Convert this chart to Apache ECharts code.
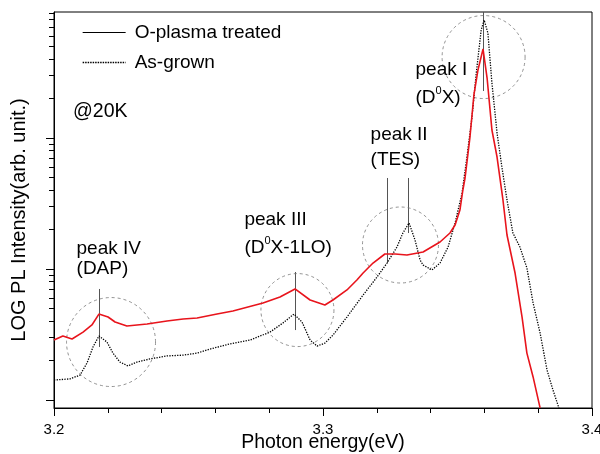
<!DOCTYPE html>
<html>
<head>
<meta charset="utf-8">
<script src="https://cdn.jsdelivr.net/npm/echarts@6.0.0/dist/echarts.min.js"></script>
<style>
  html, body { margin: 0; padding: 0; background: #fff; }
  #pl { width: 600px; height: 454px; }
</style>
</head>
<body>
<div id="pl"></div>
<script>
// PL spectra at 20K, [photon energy (eV), intensity (arb. unit)]
const oPlasma = [
  [3.2000, 287], [3.2033, 308], [3.2067, 292], [3.2108, 330], [3.2141, 374],
  [3.2167, 453], [3.2201, 430], [3.2227, 394], [3.2271, 367], [3.2346, 380],
  [3.2420, 401], [3.2480, 415], [3.2532, 423], [3.2606, 453], [3.2665, 478],
  [3.2777, 550], [3.2840, 611], [3.2896, 704], [3.2952, 580], [3.3007, 531],
  [3.3037, 580], [3.3089, 692], [3.3126, 824], [3.3149, 932], [3.3186, 1111],
  [3.3230, 1302], [3.3268, 1302], [3.3312, 1279], [3.3372, 1349], [3.3435, 1607],
  [3.3472, 1883], [3.3491, 2167], [3.3509, 2820], [3.3520, 4010], [3.3528, 4950],
  [3.3546, 10000], [3.3561, 21300], [3.3576, 33000], [3.3595, 47800], [3.3610, 28700],
  [3.3628, 11510], [3.3647, 7160], [3.3669, 3365], [3.3684, 1818], [3.3714, 932],
  [3.3740, 430], [3.3758, 228], [3.3781, 150], [3.3807, 87]
];
const asGrown = [
  [3.2000, 142], [3.2059, 145], [3.2097, 155], [3.2123, 192], [3.2145, 254],
  [3.2167, 308], [3.2197, 277], [3.2219, 228], [3.2245, 195], [3.2275, 182],
  [3.2309, 195], [3.2357, 206], [3.2420, 217], [3.2480, 220], [3.2532, 228],
  [3.2580, 245], [3.2654, 268], [3.2729, 287], [3.2803, 330], [3.2851, 387],
  [3.2892, 453], [3.2922, 394], [3.2952, 287], [3.2978, 258], [3.3007, 272],
  [3.3037, 313], [3.3089, 430], [3.3149, 633], [3.3201, 869], [3.3238, 1111],
  [3.3275, 1472], [3.3297, 1883], [3.3320, 2245], [3.3342, 1665], [3.3361, 1171],
  [3.3372, 1073], [3.3405, 983], [3.3435, 1111], [3.3465, 1472], [3.3491, 2245],
  [3.3517, 3802], [3.3535, 7160], [3.3554, 14460], [3.3569, 30270], [3.3588, 66700],
  [3.3599, 79600], [3.3613, 63300], [3.3628, 26300], [3.3647, 10920], [3.3665, 6006],
  [3.3684, 3365], [3.3706, 1883], [3.3732, 1472], [3.3758, 1018], [3.3781, 550],
  [3.3807, 325], [3.3833, 169], [3.3855, 119], [3.3877, 87]
];

// peak markers: vertical guide segments [x, yFrom, yTo]
const peakLines = [
  [3.3595, 91600, 22850],
  [3.3238, 4952, 1111],
  [3.3316, 4952, 1883],
  [3.2896, 949, 342],
  [3.2167, 704, 254]
];
// dashed circles around peaks: [x, y, diameter]
const peakCircles = [
  [3.3597, 41500, 83],
  [3.3288, 1525, 76],
  [3.2905, 486, 73],
  [3.2212, 277, 89]
];
// peak names: [x, y, text, lineHeight]
const peakNames = [
  [3.3342, 25800, 'peak I\n(D{sup|0}X)', 28],
  [3.3175, 8540, 'peak II\n(TES)', 25],
  [3.2706, 1850, 'peak III\n(D{sup|0}X-1LO)', 28],
  [3.2082, 1191, 'peak IV\n(DAP)', 20]
];

const majorTicks = [100, 1000, 10000];
const minorTicks = [200, 300, 400, 500, 600, 700, 800, 900,
  2000, 3000, 4000, 5000, 6000, 7000, 8000, 9000,
  20000, 30000, 40000, 50000, 60000, 70000, 80000, 90000];
const yMin = 86.9, yMax = 91600;

const FONT = 'Liberation Sans, Arial, sans-serif';

var chart = echarts.init(document.getElementById('pl'));

var logAxis = {
  type: 'log',
  logBase: 10,
  min: yMin,
  max: yMax,
  position: 'left',
  splitLine: { show: false },
  axisLabel: { show: false }
};

var option = {
  animation: false,
  textStyle: { fontFamily: FONT, color: '#000' },
  grid: {
    left: 54, right: 8, top: 12, bottom: 46,
    outerBoundsMode: 'none',
    containLabel: false,
    show: true, borderColor: '#000', borderWidth: 1
  },
  legend: {
    orient: 'vertical',
    left: 82,
    top: 23,
    padding: 0,
    itemGap: 11,
    itemWidth: 43,
    itemHeight: 14,
    selectedMode: false,
    itemStyle: { opacity: 0, borderWidth: 0 },
    lineStyle: { color: '#000', width: 1 },
    textStyle: { fontSize: 19, color: '#000', fontFamily: FONT, padding: [0, 0, 0, 4] },
    data: [
      { name: 'O-plasma treated', lineStyle: { color: '#000', width: 1, type: 'solid' } },
      { name: 'As-grown', lineStyle: { color: '#000', width: 1.3, type: [1.5, 1] } }
    ]
  },
  graphic: [
    { type: 'text', left: 73, top: 102, style: { text: '@20K', font: '19.5px ' + FONT, fill: '#000' } }
  ],
  xAxis: {
    type: 'value',
    min: 3.2,
    max: 3.4,
    interval: 0.1,
    name: 'Photon energy(eV)',
    nameLocation: 'middle',
    nameGap: 25,
    nameMoveOverlap: false,
    nameTextStyle: { fontSize: 19.5, color: '#000', fontFamily: FONT },
    axisLine: { lineStyle: { color: '#000', width: 1 } },
    axisTick: { length: 8, lineStyle: { color: '#000' } },
    minorTick: { show: true, splitNumber: 5, length: 5, lineStyle: { color: '#000' } },
    splitLine: { show: false },
    axisLabel: {
      fontSize: 15, color: '#000', margin: 14, fontFamily: FONT,
      formatter: function (v) { return v.toFixed(1); }
    }
  },
  yAxis: [
    Object.assign({}, logAxis, {
      name: 'LOG PL Intensity(arb. unit.)',
      nameLocation: 'middle',
      nameGap: 25,
      nameMoveOverlap: false,
      nameTextStyle: { fontSize: 20, color: '#000', fontFamily: FONT, padding: [0, 20, 0, 0] },
      axisLine: { show: true, lineStyle: { color: '#000', width: 1 } },
      axisTick: { show: true, length: 8, customValues: majorTicks, lineStyle: { color: '#000' } }
    }),
    Object.assign({}, logAxis, {
      axisLine: { show: false },
      axisTick: { show: true, length: 5, customValues: minorTicks, lineStyle: { color: '#000' } }
    })
  ],
  series: [
    {
      name: 'As-grown',
      type: 'line',
      data: asGrown,
      showSymbol: false,
      symbol: 'none',
      silent: true,
      lineStyle: { color: '#000', width: 1.3, type: [1.3, 1.3] },
      itemStyle: { color: '#000' }
    },
    {
      name: 'O-plasma treated',
      type: 'line',
      data: oPlasma,
      showSymbol: false,
      symbol: 'none',
      silent: true,
      lineStyle: { color: '#e8141c', width: 1.6 },
      itemStyle: { color: '#e8141c' }
    },
    {
      type: 'lines',
      coordinateSystem: 'cartesian2d',
      silent: true,
      lineStyle: { color: '#555', width: 1, opacity: 1 },
      data: peakLines.map(function (p) { return { coords: [[p[0], p[1]], [p[0], p[2]]] }; })
    },
    {
      type: 'scatter',
      silent: true,
      symbol: 'circle',
      itemStyle: { color: 'rgba(0,0,0,0)', borderColor: '#777', borderWidth: 1, borderType: [3, 3] },
      data: peakCircles.map(function (c) {
        return { value: [c[0], c[1]], symbolSize: c[2] };
      })
    },
    {
      type: 'scatter',
      silent: true,
      symbol: 'circle',
      symbolSize: 1,
      itemStyle: { color: 'rgba(0,0,0,0)' },
      label: {
        show: true,
        position: 'right',
        distance: 0,
        align: 'left',
        fontSize: 19,
        color: '#000',
        opacity: 1,
        fontFamily: FONT,
        formatter: function (p) { return p.name; },
        rich: {
          sup: { fontSize: 11, verticalAlign: 'top', padding: [1, 0, 0, 0], color: '#000', fontFamily: FONT }
        }
      },
      data: peakNames.map(function (n) {
        return { name: n[2], value: [n[0], n[1]], label: { lineHeight: n[3] } };
      })
    }
  ]
};

option && chart.setOption(option);
</script>
</body>
</html>
